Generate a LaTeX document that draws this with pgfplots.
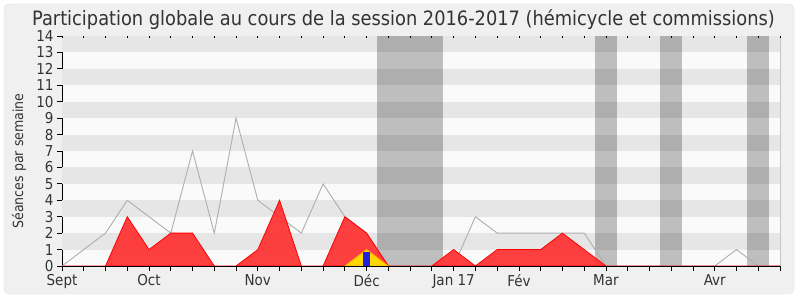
\documentclass[border=0pt]{standalone}
\usepackage{fontspec}
\setmainfont{DejaVu Sans Condensed}
\usepackage{pgfplots}
\pgfplotsset{compat=1.18}
\definecolor{txt}{HTML}{333333}
\definecolor{panel}{HTML}{F0F0F0}
\definecolor{panelborder}{HTML}{E2E2E2}
\definecolor{stripegray}{HTML}{E6E6E6}
\definecolor{stripewhite}{HTML}{FAFAFA}
\definecolor{linegray}{HTML}{AEAEAE}
\definecolor{redfill}{HTML}{FF3535}
\definecolor{gold}{HTML}{FFD700}
\definecolor{goldedge}{HTML}{FFB000}
\definecolor{bluebar}{HTML}{2222DD}
\definecolor{baseline}{HTML}{3C1400}
\definecolor{rightedge}{HTML}{C8C8C8}
\begin{document}
\begin{tikzpicture}
\useasboundingbox (0pt,0pt) rectangle (800pt,300pt);
\fill[white] (0pt,0pt) rectangle (800pt,300pt);
\filldraw[fill=panel, draw=panelborder, rounded corners=5pt] (4pt,6pt) rectangle (794pt,296pt);
\node[text=txt, font=\fontsize{19.8}{19.8}\selectfont, anchor=base] at (403.5pt,274pt) {Participation globale au cours de la session 2016-2017 (hémicycle et commissions)};
\node[text=txt, font=\fontsize{14}{14}\selectfont, rotate=90] at (19pt,139pt) {Séances par semaine};
\begin{axis}[
  at={(62pt,34pt)}, anchor=origin, scale only axis,
  width=718pt, height=230pt,
  xmin=0, xmax=33, ymin=0, ymax=14,
  axis lines*=left,
  axis background/.style={fill=stripewhite},
  x axis line style={draw=baseline, line width=1pt},
  y axis line style={draw=black, line width=0.8pt},
  tick align=outside, major tick length=5pt,
  tick style={black, line width=0.8pt},
  xtick={0,...,33},
  xticklabels={Sept,,,,Oct,,,,,Nov,,,,,Déc,,,,Jan 17,,,Fév,,,,Mar,,,,,Avr,,,},
  ytick={0,...,14},
  ticklabel style={text=txt, font=\fontsize{15}{15}\selectfont},
  /pgf/number format/assume math mode=true,
  clip=false,
]
\fill[stripegray] (axis cs:0,1) rectangle (axis cs:33,2);
\fill[stripegray] (axis cs:0,3) rectangle (axis cs:33,4);
\fill[stripegray] (axis cs:0,5) rectangle (axis cs:33,6);
\fill[stripegray] (axis cs:0,7) rectangle (axis cs:33,8);
\fill[stripegray] (axis cs:0,9) rectangle (axis cs:33,10);
\fill[stripegray] (axis cs:0,11) rectangle (axis cs:33,12);
\fill[stripegray] (axis cs:0,13) rectangle (axis cs:33,14);
\fill[black, opacity=0.24] (axis cs:14.5,0) rectangle (axis cs:17.5,14);
\fill[black, opacity=0.24] (axis cs:24.5,0) rectangle (axis cs:25.5,14);
\fill[black, opacity=0.24] (axis cs:27.5,0) rectangle (axis cs:28.5,14);
\fill[black, opacity=0.24] (axis cs:31.5,0) rectangle (axis cs:32.5,14);
\draw[rightedge, line width=0.8pt] (rel axis cs:1,0) -- (rel axis cs:1,1);
% total (gray line)
\addplot[draw=linegray, line width=0.9pt, mark=none] coordinates {
(0,0)(1,1)(2,2)(3,4)(4,3)(5,2)(6,7)(7,2)(8,9)(9,4)(10,3)(11,2)(12,5)(13,3)(14,2)(15,0)(16,0)(17,0)(18,0)(19,3)(20,2)(21,2)(22,2)(23,2)(24,2)(25,0)(26,0)(27,0)(28,0)(29,0)(30,0)(31,1)(32,0)(33,0)};
% commissions (red area)
\addplot[draw=red, fill=redfill, fill opacity=0.95, line width=0.8pt, mark=none] coordinates {
(0,0)(1,0)(2,0)(3,3)(4,1)(5,2)(6,2)(7,0)(8,0)(9,1)(10,4)(11,0)(12,0)(13,3)(14,2)(15,0)(16,0)(17,0)(18,1)(19,0)(20,1)(21,1)(22,1)(23,2)(24,1)(25,0)(26,0)(27,0)(28,0)(29,0)(30,0)(31,0)(32,0)(33,0)} \closedcycle;
% hemicycle (yellow area)
\addplot[draw=goldedge, fill=gold, line width=0.8pt, mark=none] coordinates {(13,0)(14,1)(15,0)} \closedcycle;
% interventions (blue bar)
\addplot[ybar, bar width=0.3, bar shift=0pt, fill=bluebar, draw=none] coordinates {(14,0.85)};
\draw[baseline, line width=1pt] (rel axis cs:0,0) -- (rel axis cs:1,0);
\end{axis}
\begin{axis}[
  at={(62pt,34pt)}, anchor=origin, scale only axis,
  width=718pt, height=230pt,
  xmin=0, xmax=33, ymin=0, ymax=14,
  hide y axis,
  axis x line*=top,
  x axis line style={draw=none},
  xtick={0,...,33}, xticklabels={},
  tick align=inside, major tick length=2pt,
  tick style={black, line width=0.8pt},
]
\addplot[draw=none] coordinates {(0,0)(33,14)};
\end{axis}
\end{tikzpicture}
\end{document}
